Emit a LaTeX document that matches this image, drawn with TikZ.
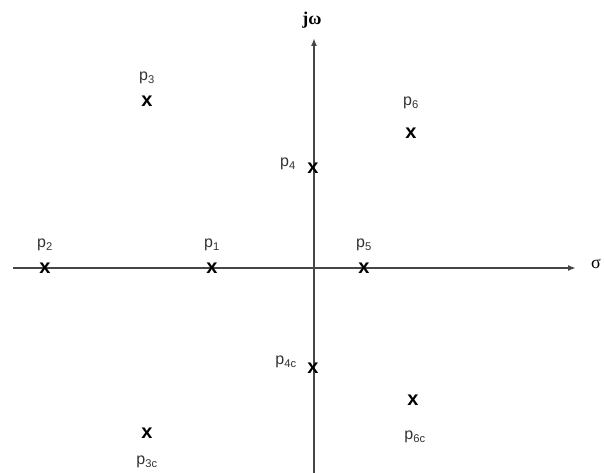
\documentclass[tikz,border=0pt]{standalone}
\usepackage{fontspec}
\setmainfont{Liberation Sans}
\newfontfamily\axisfont{Liberation Serif}
\usetikzlibrary{arrows.meta,positioning}
\definecolor{axisgray}{RGB}{70,70,70}
\tikzset{
  axis/.style={draw=axisgray, line width=1.8pt, -{Latex[length=8pt,width=6pt]}},
  pole/.style={inner sep=0pt, font=\fontsize{20}{20}\selectfont\bfseries},
  plabel/.style={inner sep=0pt, text=black!80, font=\fontsize{16}{16}\selectfont},
  axlabel/.style={inner sep=0pt, font=\axisfont\fontsize{18}{18}\selectfont}
}

\begin{document}
\begin{tikzpicture}[x=1pt,y=1pt]
  \useasboundingbox (-314,-205) rectangle (290,268);
  % axes
  \coordinate (west) at (-301,0);
  \coordinate (east) at (262,0);
  \coordinate (south) at (0,-205);
  \coordinate (north) at (0,230);
  \draw[axis] (west) -- (east);
  \draw[axis] (south) -- (north);
  \node[axlabel] (sigma) at (282,4) {σ};
  \node[axlabel, font=\axisfont\fontsize{18}{18}\selectfont\bfseries] (jw) at (-2,248) {jω};

  % poles
  \node[pole] (p1) at (-102,0) {x};
  \node[pole] (p2) at (-269,0) {x};
  \node[pole] (p3) at (-167,167) {x};
  \node[pole] (p3c) at (-167,-165) {x};
  \node[pole] (p4) at (-1,100) {x};
  \node[pole] (p4c) at (-1,-100) {x};
  \node[pole] (p5) at (50,0) {x};
  \node[pole] (p6) at (97,135) {x};
  \node[pole] (p6c) at (99,-132) {x};

  % labels
  \node[plabel] (l1) at (-102,23) {p\textsubscript{1}};
  \node[plabel] (l2) at (-269,23) {p\textsubscript{2}};
  \node[plabel] (l3) at (-167,190) {p\textsubscript{3}};
  \node[plabel] (l3c) at (-167,-194) {p\textsubscript{3c}};
  \node[plabel] (l4) at (-26,104) {p\textsubscript{4}};
  \node[plabel] (l4c) at (-28,-94) {p\textsubscript{4c}};
  \node[plabel] (l5) at (50,23) {p\textsubscript{5}};
  \node[plabel] (l6) at (97,165) {p\textsubscript{6}};
  \node[plabel] (l6c) at (101,-169) {p\textsubscript{6c}};
\end{tikzpicture}
\end{document}
